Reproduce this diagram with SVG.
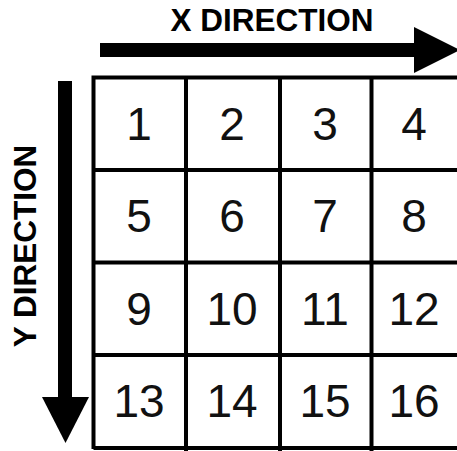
<svg xmlns="http://www.w3.org/2000/svg" width="457" height="451" viewBox="0 0 457 451">
<style>
.lbl{font-family:"Liberation Sans",Arial,sans-serif;font-weight:bold;font-size:31.5px;fill:#000;text-anchor:middle}
.num{font-family:"Liberation Sans",Arial,sans-serif;font-size:46px;fill:#111;text-anchor:middle}
.grid{stroke:#000;stroke-width:4;fill:none}
</style>
<rect width="457" height="451" fill="#fff"/>
<g id="x-arrow">
<rect x="100" y="43" width="316" height="14" fill="#000"/>
<polygon points="414,27 460,50 414,73" fill="#000"/>
<text class="lbl" x="272" y="30.5">X DIRECTION</text>
</g>
<g id="y-arrow">
<rect x="58" y="81" width="14" height="318" fill="#000"/>
<polygon points="42,397 89,397 65.5,443" fill="#000"/>
<text class="lbl" transform="translate(35.5,246) rotate(-90)">Y DIRECTION</text>
</g>
<g id="grid">
<path class="grid" d="M93.5,449 V77.5 H460 M186,77.5 V451 M280,77.5 V451 M371.5,77.5 V451 M93.5,170 H460 M93.5,262.5 H460 M93.5,355 H460 M93.5,448 H460"/>
</g>
<g id="cells">
<text class="num" x="139" y="140">1</text>
<text class="num" x="232" y="140">2</text>
<text class="num" x="325" y="140">3</text>
<text class="num" x="414" y="140">4</text>
<text class="num" x="139" y="232">5</text>
<text class="num" x="232" y="232">6</text>
<text class="num" x="325" y="232">7</text>
<text class="num" x="414" y="232">8</text>
<text class="num" x="139" y="325">9</text>
<text class="num" x="232" y="325">10</text>
<text class="num" x="325" y="325">11</text>
<text class="num" x="414" y="325">12</text>
<text class="num" x="139" y="417">13</text>
<text class="num" x="232" y="417">14</text>
<text class="num" x="325" y="417">15</text>
<text class="num" x="414" y="417">16</text>
</g>
</svg>
